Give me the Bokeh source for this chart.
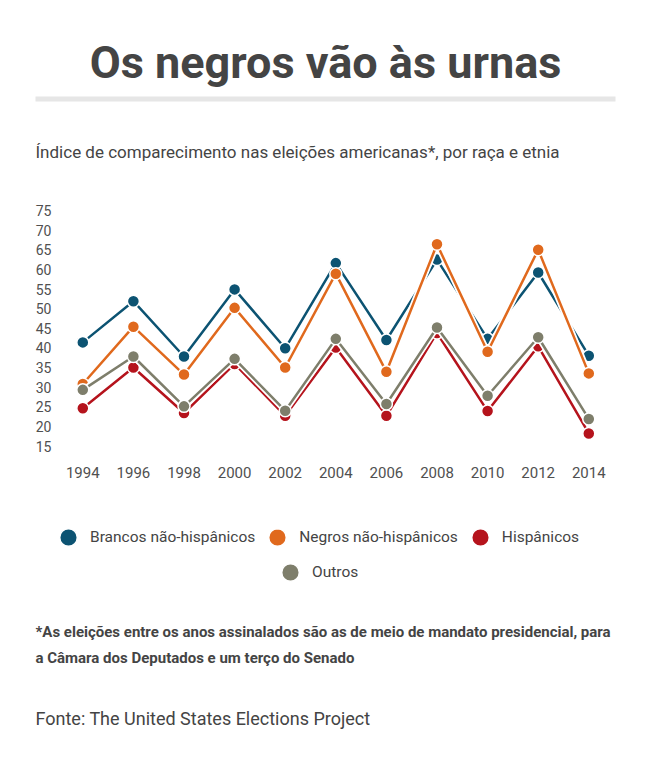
from bokeh.plotting import figure
from bokeh.models import (Range1d, FixedTicker, Label, Legend, LegendItem,
                          BoxAnnotation, ColumnDataSource, LinearAxis)
from bokeh.embed import file_html
from bokeh.resources import INLINE

# ---- data ----
years = [1994, 1996, 1998, 2000, 2002, 2004, 2006, 2008, 2010, 2012, 2014]
brancos = [41.4, 51.9, 37.8, 54.9, 39.9, 61.6, 42.0, 62.5, 42.3, 59.2, 38.0]
negros = [30.8, 45.4, 33.2, 50.2, 35.0, 58.9, 33.9, 66.4, 39.0, 65.0, 33.5]
hispanicos = [24.6, 35.0, 23.4, 35.9, 22.7, 40.1, 22.7, 43.8, 23.9, 40.4, 18.2]
outros = [29.3, 37.8, 25.1, 37.2, 24.0, 42.3, 25.7, 45.2, 27.8, 42.7, 21.9]
y_ticks = [15, 20, 25, 30, 35, 40, 45, 50, 55, 60, 65, 70, 75]

series_names = ["Brancos não-hispânicos", "Negros não-hispânicos", "Hispânicos", "Outros"]
series_cols = ["brancos", "negros", "hispanicos", "outros"]
series_colors = ["#0c5372", "#e0691d", "#b5131c", "#7e7e6b"]

title_text = "Os negros vão às urnas"
subtitle_text = "Índice de comparecimento nas eleições americanas*, por raça e etnia"
note_line1 = "*As eleições entre os anos assinalados são as de meio de mandato presidencial, para"
note_line2 = "a Câmara dos Deputados e um terço do Senado"
source_text = "Fonte: The United States Elections Project"

source = ColumnDataSource(dict(year=years, brancos=brancos, negros=negros,
                               hispanicos=hispanicos, outros=outros))

FONT = "Roboto"
TEXT = "#444444"

# ---- layout geometry (pixels) ----
W, H = 650, 760
X_FIRST_PX, PX_PER_YEAR = 82.3, 25.3      # pixel of first year, pixels per year
Y_TOP_TICK_PX, PX_PER_UNIT = 210.0, 3.925  # pixel of the 75 tick, pixels per unit
x_start = years[0] - X_FIRST_PX / PX_PER_YEAR
x_end = x_start + W / PX_PER_YEAR
y_end = y_ticks[-1] + Y_TOP_TICK_PX / PX_PER_UNIT
y_start = y_end - H / PX_PER_UNIT

p = figure(width=W, height=H, output_backend="svg", toolbar_location=None,
           x_range=Range1d(x_start, x_end), y_range=Range1d(y_start, y_end),
           x_axis_location=None, y_axis_location=None, min_border=0)
p.background_fill_color = "white"
p.border_fill_color = "white"
p.outline_line_color = None
p.grid.visible = False

xaxis = LinearAxis(fixed_location=11, ticker=FixedTicker(ticks=years))
yaxis = LinearAxis(fixed_location=1993, ticker=FixedTicker(ticks=y_ticks))
for ax in (xaxis, yaxis):
    ax.axis_line_color = None
    ax.major_tick_line_color = None
    ax.minor_tick_line_color = None
    ax.major_tick_out = 0
    ax.major_tick_in = 0
    ax.minor_tick_out = 0
    ax.minor_tick_in = 0
    ax.major_label_text_font = FONT
    ax.major_label_text_color = "#505050"
xaxis.major_label_text_font_size = "15px"
xaxis.major_label_standoff = 5
yaxis.major_label_text_font_size = "14px"
yaxis.major_label_standoff = 6
p.add_layout(xaxis, "below")
p.add_layout(yaxis, "left")

dot_renderers = []
for col, color in zip(series_cols, series_colors):
    p.line("year", col, source=source, line_color="white", line_width=6)
    p.line("year", col, source=source, line_color=color, line_width=2.5)
    r = p.scatter("year", col, source=source, size=12, fill_color=color,
                  line_color="white", line_width=1.5)
    dot_renderers.append(r)

common = dict(orientation="horizontal", glyph_width=44, glyph_height=44,
              label_standoff=0, spacing=0, padding=0, margin=0,
              border_line_alpha=0, background_fill_alpha=0,
              label_text_font=FONT, label_text_font_size="15.5px",
              label_text_color=TEXT)
legend1 = Legend(items=[LegendItem(label=series_names[i], renderers=[dot_renderers[i]])
                        for i in range(3)], location=(46, H - 559), **common)
legend2 = Legend(items=[LegendItem(label=series_names[3], renderers=[dot_renderers[3]])],
                 location=(268, H - 594), **common)
p.add_layout(legend1)
p.add_layout(legend2)


def label(x, baseline_y, text, size, bold=False, align="left"):
    # Bokeh places the alphabetic baseline about a third of an em low; compensate
    p.add_layout(Label(x=x, y=H - baseline_y + 0.33 * size, x_units="screen",
                       y_units="screen", text=text, text_font=FONT,
                       text_font_size=f"{size}px",
                       text_font_style="bold" if bold else "normal",
                       text_color=TEXT, text_align=align,
                       text_baseline="alphabetic"))


label(325, 77, title_text, 45, bold=True, align="center")
p.add_layout(BoxAnnotation(left=35, right=615, bottom=H - 101, top=H - 96,
                           left_units="screen", right_units="screen",
                           bottom_units="screen", top_units="screen",
                           fill_color="#e6e6e6", fill_alpha=1, line_alpha=0))
label(35, 157, subtitle_text, 17)
label(35, 636, note_line1, 15, bold=True)
label(35, 662, note_line2, 15, bold=True)
label(35, 724, source_text, 18)

open("out.html", "w").write(file_html(p, INLINE))
